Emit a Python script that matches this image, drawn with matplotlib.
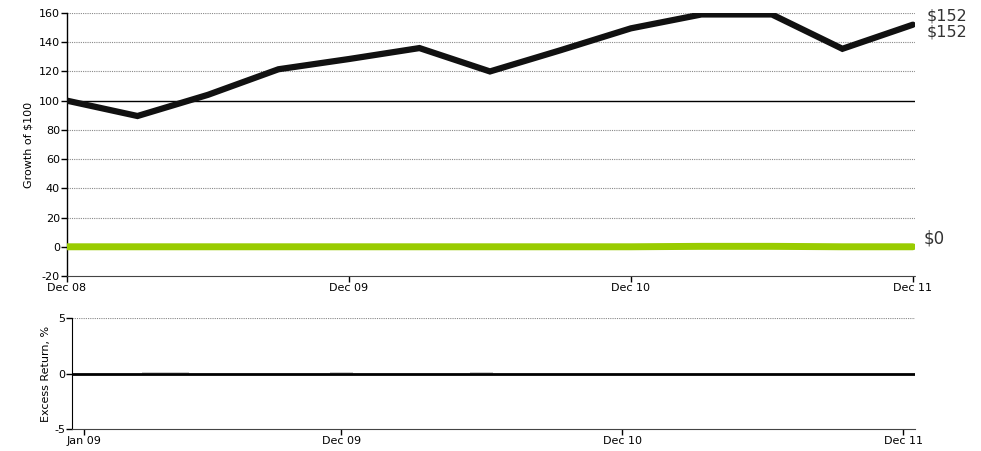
import matplotlib.pyplot as plt
import numpy as np

# Data (quarterly growth of $100, monthly excess return)
quarters = ["Dec 08", "Mar 09", "Jun 09", "Sep 09", "Dec 09", "Mar 10", "Jun 10",
            "Sep 10", "Dec 10", "Mar 11", "Jun 11", "Sep 11", "Dec 11"]
fund_growth = [100, 89.5, 104, 121.5, 128.5, 136, 120, 134.5, 149.5, 159, 159, 135.5, 152]
bench_growth = [0, 0, 0, 0, 0, 0, 0, 0, 0, 0.3, 0.3, 0, 0]

months = 36  # Jan 09 .. Dec 11
excess_return = [0.0] * months
excess_return[3] = 0.1
excess_return[4] = 0.1
excess_return[11] = 0.1
excess_return[17] = 0.1

top_ticks = [0, 4, 8, 12]
top_ticklabels = ["Dec 08", "Dec 09", "Dec 10", "Dec 11"]
bot_ticks = [0, 11, 23, 35]
bot_ticklabels = ["Jan 09", "Dec 09", "Dec 10", "Dec 11"]

W, H = 981, 451
plt.rcParams['font.family'] = ['DejaVu Sans']
plt.rcParams['axes.unicode_minus'] = False
fig = plt.figure(figsize=(W / 100, H / 100), dpi=100)

def box(l, t, r, b):
    return [l / W, 1 - b / H, (r - l) / W, (b - t) / H]

# ---- top chart
ax = fig.add_axes(box(67, 13, 915, 276))
x = np.arange(len(quarters))
ax.set_xlim(0, 12.03)
ax.set_ylim(-20, 160)
yt = np.arange(-20, 161, 20)
for v in yt:
    if v == 100:
        ax.axhline(v, color="black", lw=1, zorder=1)
    elif v > -20:
        ax.axhline(v, color="#888888", lw=0.8, ls=(0, (1, 1)), zorder=1)
ax.plot(x, bench_growth, color="#99cc00", lw=5, solid_capstyle="round", zorder=3)
ax.plot(x, fund_growth, color="#111111", lw=4.5, solid_capstyle="round",
        solid_joinstyle="miter", zorder=4)
ax.set_yticks(yt)
ax.set_xticks(top_ticks)
ax.set_xticklabels(top_ticklabels)
ax.tick_params(labelsize=8, length=4, width=1, color="black", pad=1)
ax.tick_params(axis="y", pad=1)
for s in ["top", "right"]:
    ax.spines[s].set_visible(False)
ax.spines["bottom"].set_linestyle((0, (1, 1)))
ax.spines["bottom"].set_color("#444444")
ax.spines["left"].set_linewidth(1)
ax.set_ylabel("Growth of $100", fontsize=8, labelpad=4)
ax.text(12.2, fund_growth[-1] + 6, "$%d" % round(fund_growth[-1]), fontsize=11.5,
        color="#333333", va="center", clip_on=False)
ax.text(12.2, fund_growth[-1] - 5, "$%d" % round(fund_growth[-1]), fontsize=11.5,
        color="#333333", va="center", clip_on=False)
ax.text(12.15, bench_growth[-1] + 6, "$%d" % round(bench_growth[-1]), fontsize=12,
        color="#333333", va="center", clip_on=False)

# ---- bottom chart
bx = fig.add_axes(box(72, 318, 915, 429))
m = np.arange(months)
bx.set_xlim(-0.5, 35.5)
bx.set_ylim(-5, 5)
bx.axhline(5, color="#888888", lw=0.8, ls=(0, (1, 1)), zorder=1)
bx.bar(m, excess_return, width=1.0, color="#cccccc", zorder=2)
bx.axhline(0, color="black", lw=2, zorder=3)
bx.set_yticks([-5, 0, 5])
bx.set_xticks(bot_ticks)
bx.set_xticklabels(bot_ticklabels)
bx.tick_params(labelsize=8, length=4, width=1, color="black", pad=1)
for s in ["top", "right"]:
    bx.spines[s].set_visible(False)
bx.spines["bottom"].set_linestyle((0, (1, 1)))
bx.spines["bottom"].set_color("#444444")
bx.set_ylabel("Excess Return, %", fontsize=8, labelpad=2)

fig.savefig("out.png", dpi=100)
